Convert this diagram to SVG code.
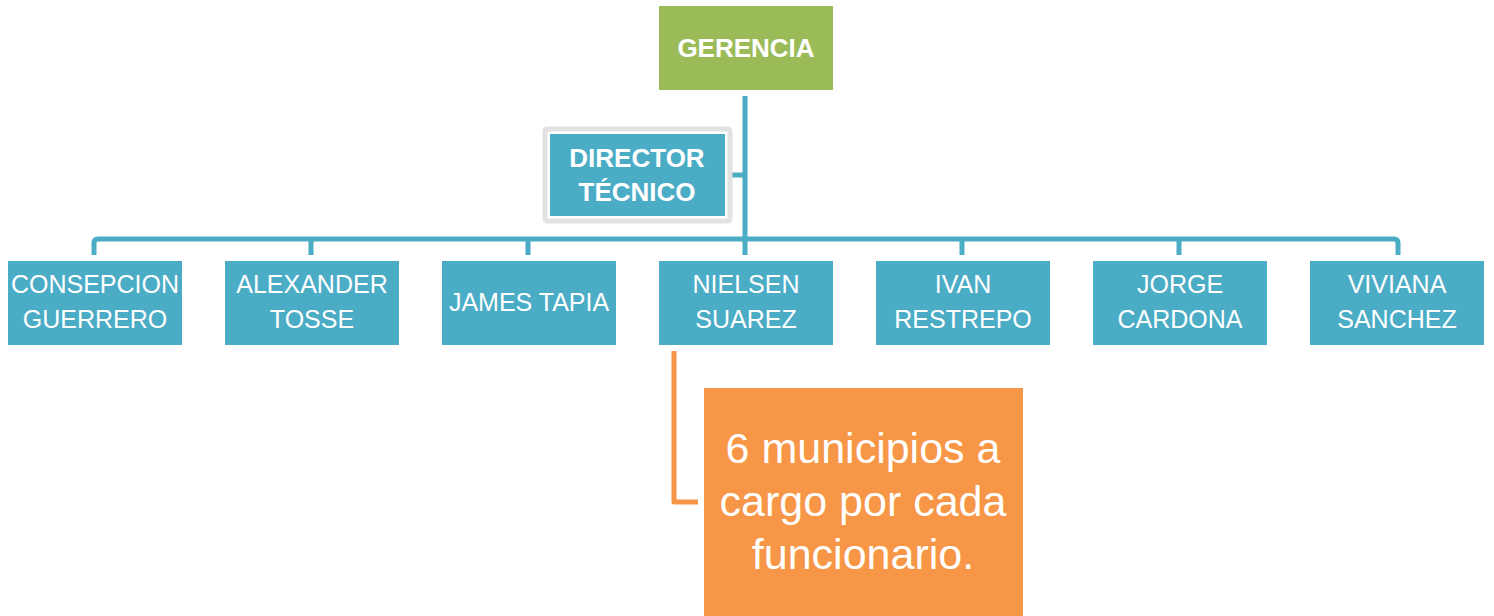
<svg xmlns="http://www.w3.org/2000/svg" width="1494" height="616" viewBox="0 0 1494 616">
<style>
.box{fill:#4BACC6}
.t{font-family:"Liberation Sans",Arial,sans-serif;fill:#fff;text-anchor:middle;font-size:25px}
.b{font-weight:bold;font-size:26px}
.big{font-size:43px}
.ln{fill:none;stroke:#4BACC6;stroke-width:5;stroke-linejoin:round}
</style>
<rect width="1494" height="616" fill="#fff"/>
<g id="connectors">
<path class="ln" d="M745 96V239"/>
<path class="ln" d="M731 175H745"/>
<path class="ln" d="M94 255V243Q94 239 98 239H1394Q1398 239 1398 243V255"/>
<path class="ln" d="M311 239V255M528 239V255M745 239V255M962 239V255M1179 239V255"/>
<path d="M674 351V502H698" fill="none" stroke="#F79646" stroke-width="5" stroke-linejoin="round"/>
</g>
<g id="gerencia"><rect x="659" y="6" width="174" height="84" fill="#9BBB59"/><text class="t b" x="746" y="57">GERENCIA</text></g>
<g id="director"><rect x="545" y="129" width="185" height="92" fill="#fff" stroke="#E2E2E2" stroke-width="5" rx="2"/><rect x="550" y="134" width="175" height="82" class="box"/><text class="t b" x="637" y="167">DIRECTOR</text><text class="t b" x="637" y="201">TÉCNICO</text></g>
<g id="n1"><rect x="8" y="261" width="174" height="84" class="box"/><text class="t" x="95" y="293">CONSEPCION</text><text class="t" x="95" y="328">GUERRERO</text></g>
<g id="n2"><rect x="225" y="261" width="174" height="84" class="box"/><text class="t" x="312" y="293">ALEXANDER</text><text class="t" x="312" y="328">TOSSE</text></g>
<g id="n3"><rect x="442" y="261" width="174" height="84" class="box"/><text class="t" x="529" y="311">JAMES TAPIA</text></g>
<g id="n4"><rect x="659" y="261" width="174" height="84" class="box"/><text class="t" x="746" y="293">NIELSEN</text><text class="t" x="746" y="328">SUAREZ</text></g>
<g id="n5"><rect x="876" y="261" width="174" height="84" class="box"/><text class="t" x="963" y="293">IVAN</text><text class="t" x="963" y="328">RESTREPO</text></g>
<g id="n6"><rect x="1093" y="261" width="174" height="84" class="box"/><text class="t" x="1180" y="293">JORGE</text><text class="t" x="1180" y="328">CARDONA</text></g>
<g id="n7"><rect x="1310" y="261" width="174" height="84" class="box"/><text class="t" x="1397" y="293">VIVIANA</text><text class="t" x="1397" y="328">SANCHEZ</text></g>
<g id="note"><rect x="704" y="388" width="319" height="240" fill="#F79646"/><text class="t big" x="863" y="463">6 municipios a</text><text class="t big" x="863" y="516">cargo por cada</text><text class="t big" x="863" y="569">funcionario.</text></g>
</svg>
